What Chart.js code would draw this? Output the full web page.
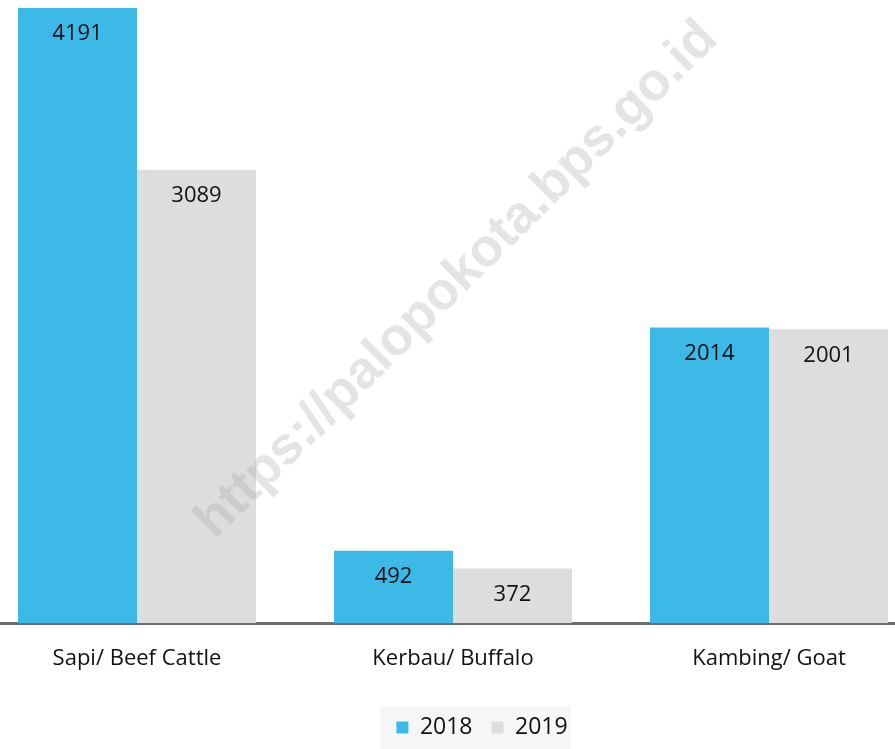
<!DOCTYPE html>
<html>
<head>
<meta charset="utf-8">
<script src="https://cdn.jsdelivr.net/npm/chart.js@4/dist/chart.umd.min.js"></script>
<style>
  html, body { margin: 0; padding: 0; background: #fff; overflow: hidden; }
  #wrap { position: absolute; left: -21px; top: 0; width: 948px; height: 749px; }
</style>
</head>
<body>
<div id="wrap"><canvas id="livestockChart" width="948" height="749"></canvas></div>
<script>
// Data
const categories = ['Sapi/ Beef Cattle', 'Kerbau/ Buffalo', 'Kambing/ Goat'];
const seriesNames = ['2018', '2019'];
const values2018 = [4191, 492, 2014];
const values2019 = [3089, 372, 2001];
const seriesColors = ['#3db9e7', '#dcdddf'];
const watermark = 'https://palopokota.bps.go.id';

const textColor = '#111111';
const fontFamily = "'Open Sans', 'Noto Sans', sans-serif";

// value labels inside the top of each bar
const barLabels = {
  id: 'barLabels',
  afterDatasetsDraw(chart) {
    const ctx = chart.ctx;
    ctx.save();
    ctx.font = '22px ' + fontFamily;
    ctx.fillStyle = textColor;
    ctx.textAlign = 'center';
    ctx.textBaseline = 'middle';
    chart.data.datasets.forEach((ds, i) => {
      chart.getDatasetMeta(i).data.forEach((bar, j) => {
        ctx.fillText(String(ds.data[j]), bar.x, bar.y + 26);
      });
    });
    ctx.restore();
  }
};

// shift legend to the right a bit and give it a light background
const legendBox = {
  id: 'legendBox',
  afterUpdate(chart) {
    const lg = chart.legend;
    lg.left += 29;
    lg.right += 29;
  },
  beforeDraw(chart) {
    const lg = chart.legend;
    const cx = (lg.left + lg.right) / 2;
    const ctx = chart.ctx;
    ctx.save();
    ctx.fillStyle = '#f6f6f6';
    ctx.fillRect(cx - 102, lg.top + 9, 191, lg.bottom - lg.top - 9);
    ctx.restore();
  }
};

// diagonal watermark on top of the bars
const watermarkText = {
  id: 'watermarkText',
  afterDraw(chart) {
    const ctx = chart.ctx;
    ctx.save();
    ctx.translate(478, 280);
    ctx.rotate(-44.7 * Math.PI / 180);
    ctx.font = 'bold 53px "Liberation Sans", Arial, sans-serif';
    ctx.fillStyle = 'rgba(166,166,166,0.3)';
    ctx.textAlign = 'center';
    ctx.textBaseline = 'middle';
    ctx.fillText(watermark, 0, 0);
    ctx.restore();
  }
};

const ctx = document.getElementById('livestockChart').getContext('2d');
const livestockChart = new Chart(ctx, {
  type: 'bar',
  data: {
    labels: categories,
    datasets: [
      { label: seriesNames[0], data: values2018, backgroundColor: seriesColors[0] },
      { label: seriesNames[1], data: values2019, backgroundColor: seriesColors[1] }
    ]
  },
  options: {
    responsive: false,
    animation: false,
    devicePixelRatio: 1,
    categoryPercentage: 0.753,
    barPercentage: 1.0,
    layout: { padding: 0 },
    scales: {
      x: {
        grid: { display: false },
        border: { display: true, color: '#6d6e71', width: 3 },
        ticks: {
          color: textColor,
          font: { family: fontFamily, size: 22 },
          padding: 15,
          maxRotation: 0
        },
        afterFit(scale) { scale.height = 74; }
      },
      y: {
        display: false,
        min: 0,
        max: 4245
      }
    },
    plugins: {
      legend: {
        position: 'bottom',
        labels: {
          color: textColor,
          font: { family: fontFamily, size: 23 },
          boxWidth: 12,
          boxHeight: 12,
          padding: 19
        }
      },
      tooltip: { enabled: false }
    }
  },
  plugins: [barLabels, legendBox, watermarkText]
});
</script>
</body>
</html>
